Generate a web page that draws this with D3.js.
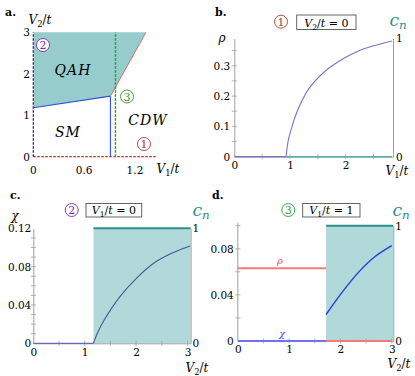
<!DOCTYPE html>
<html>
<head>
<meta charset="utf-8">
<script src="https://cdn.jsdelivr.net/npm/d3@7"></script>
<style>
  body { margin: 0; background: #fff; }
</style>
</head>
<body>
<svg id="fig" width="415" height="376"></svg>
<script>
// ---- data ----
// panel a: phase diagram (V1/t, V2/t)
var phaseXTicks = [0, 0.6, 1.2];
var phaseYTicks = [0, 1, 2, 3];
var smQahLine = [[0, 1.18], [0.91, 1.46]];
var smCdwLine = [[0.91, 0], [0.91, 1.46]];
var qahCdwLine = [[0.91, 1.46], [1.33, 3]];
var qahRegion = [[0, 1.18], [0.91, 1.46], [1.33, 3], [0, 3]];
var cut1 = [[0, 0], [1.46, 0]];
var cut2 = [[0, 0], [0, 3]];
var cut3 = [[0.97, 0], [0.97, 3]];

// panel b: rho vs V1/t at V2/t = 0
var bX = [0.93, 0.97, 1.03, 1.12, 1.33, 1.63, 2.0, 2.23, 2.5, 2.83];
var bRho = [0, 0.055, 0.095, 0.145, 0.222, 0.282, 0.328, 0.349, 0.366, 0.382];
var bRhoZero = [[0, 0], [0.93, 0]];
var bCn = [[0.93, 0], [2.83, 0]];
var bYTicks = [0, 0.1, 0.2, 0.3];
var bXTicks = [0, 1, 2];

// panel c: chi vs V2/t at V1/t = 0
var cX = [1.17, 1.25, 1.37, 1.69, 2.02, 2.34, 2.67, 3.05];
var cChi = [0, 0.011, 0.0235, 0.049, 0.0685, 0.0835, 0.0935, 0.1016];
var cChiZero = [[0, 0], [1.17, 0]];
var cCn = [[1.17, 1], [3.06, 1]];
var cYTicks = [0, 0.04, 0.08, 0.12];
var cXTicks = [0, 1, 2, 3];

// panel d: rho, chi vs V2/t at V1/t = 1
var dRho = [[0, 0.0632], [1.72, 0.0632]];
var dRhoZero = [[1.72, 0], [3.0, 0]];
var dChiZero = [[0, 0], [1.72, 0]];
var dX = [1.72, 2.02, 2.35, 2.68, 3.0];
var dChi = [0.023, 0.0415, 0.0595, 0.0735, 0.0828];
var dCn = [[1.72, 1], [3.03, 1]];
var dYTicks = [0, 0.04, 0.08];
var dXTicks = [0, 1, 2, 3];

var teal = "#2a9090", fillTeal = "#b2d9d9", axisGrey = "#a0a0a0";
var serif = "DejaVu Serif";
var svg = d3.select("#fig").style("font-family", serif);

// math style label: parts = [[text, italic?, sub?, up?], ...]
function mathText(g, x, y, parts, opts) {
  opts = opts || {};
  var t = g.append("text").attr("x", x).attr("y", y)
    .style("font-family", serif)
    .attr("font-size", opts.size || 11)
    .attr("fill", opts.color || "#000")
    .attr("text-anchor", opts.anchor || "middle");
  parts.forEach(function(p) {
    var s = t.append("tspan").text(p[0]);
    if (p[1]) s.attr("font-style", "italic");
    if (p[2]) s.attr("font-size", (opts.size || 11) * 0.7).attr("dy", 3);
    if (p[3]) s.attr("dy", -3);
  });
  return t;
}

function txt(g, x, y, s, size) {
  return g.append("text").attr("x", x).attr("y", y).style("font-family", serif)
    .attr("font-size", size).text(s);
}

function circled(g, x, y, n, color) {
  g.append("circle").attr("cx", x).attr("cy", y).attr("r", 6.5)
    .attr("fill", "#fff").attr("stroke", color).attr("stroke-width", 0.9);
  txt(g, x, y + 4, n, 11).attr("text-anchor", "middle").attr("fill", color);
}

function titleBox(g, x0, x1, y0, y1, parts) {
  g.append("rect").attr("x", x0).attr("y", y0).attr("width", x1 - x0).attr("height", y1 - y0)
    .attr("fill", "#fff").attr("stroke", "#555").attr("stroke-width", 0.9);
  mathText(g, (x0 + x1) / 2, y1 - 3, parts, {size: 11});
}

function greyAxis(g, axis, transform) {
  var a = g.append("g").attr("transform", transform).call(axis);
  a.select(".domain").attr("stroke", axisGrey);
  a.selectAll(".tick text").style("font-family", serif).attr("font-size", 10.5).attr("fill", "#000");
  return a;
}

function minorTicks(g, scale, values, orient, pos, len) {
  values.forEach(function(v) {
    var p = scale(v);
    if (orient === "y") {
      g.append("line").attr("x1", pos - len).attr("x2", pos + len).attr("y1", p).attr("y2", p)
        .attr("stroke", axisGrey).attr("stroke-width", 0.8);
    } else {
      g.append("line").attr("y1", pos - len).attr("y2", pos + len).attr("x1", p).attr("x2", p)
        .attr("stroke", axisGrey).attr("stroke-width", 0.8);
    }
  });
}

function fmt(d) { return d === 0 ? "0" : String(+d.toFixed(2)); }

// ---------------- panel a ----------------
(function() {
  var g = svg.append("g");
  var x = d3.scaleLinear().domain([0, 1.46]).range([33.3, 157]);
  var y = d3.scaleLinear().domain([0, 3]).range([156.7, 32.3]);
  var line = d3.line().x(function(d) { return x(d[0]); }).y(function(d) { return y(d[1]); });

  g.append("path").attr("d", line(qahRegion) + "Z").attr("fill", "#97cccc");
  g.append("path").attr("d", line(smQahLine)).attr("stroke", "#2f4ee6").attr("stroke-width", 1.1).attr("fill", "none");
  g.append("path").attr("d", line(smCdwLine)).attr("stroke", "#2f4ee6").attr("stroke-width", 1.1).attr("fill", "none");
  g.append("path").attr("d", line(qahCdwLine)).attr("stroke", "#e06a5a").attr("stroke-width", 1).attr("fill", "none");
  g.append("path").attr("d", line(cut1)).attr("stroke", "#a83a2c").attr("stroke-width", 1.3)
    .attr("stroke-dasharray", "2.5,1.5").attr("fill", "none");
  g.append("path").attr("d", line(cut2)).attr("stroke", "#2c2c80").attr("stroke-width", 1.3)
    .attr("stroke-dasharray", "2.5,1.5").attr("fill", "none");
  g.append("path").attr("d", line(cut3)).attr("stroke", "#2f9a2f").attr("stroke-width", 1.5)
    .attr("stroke-dasharray", "2.5,1.5").attr("fill", "none");

  phaseXTicks.forEach(function(d) { txt(g, x(d), 174, fmt(d), 10.5).attr("text-anchor", "middle"); });
  phaseYTicks.forEach(function(d) { txt(g, 30, y(d) + 4, fmt(d), 10.5).attr("text-anchor", "end"); });

  mathText(g, 40, 24, [["V", true], ["2", false, true], ["/", false, false, true], ["t", true]], {size: 12});
  mathText(g, 168, 173, [["V", true], ["1", false, true], ["/", false, false, true], ["t", true]], {size: 12});
  txt(g, 5, 16, "a.", 11).attr("font-weight", "bold");

  txt(g, 73, 75, "QAH", 14).attr("text-anchor", "middle").attr("font-style", "italic").attr("letter-spacing", 1);
  txt(g, 68, 137, "SM", 14).attr("text-anchor", "middle").attr("font-style", "italic").attr("letter-spacing", 1);
  txt(g, 148, 125, "CDW", 14).attr("text-anchor", "middle").attr("font-style", "italic").attr("letter-spacing", 1);

  circled(g, 43, 45, "2", "#7a2aa0");
  circled(g, 127, 96.5, "3", "#2f9a2f");
  circled(g, 144, 144, "1", "#b03a2e");
})();

// ---------------- panel b ----------------
(function() {
  var g = svg.append("g");
  var x = d3.scaleLinear().domain([0, 2.85]).range([234.3, 393]);
  var y = d3.scaleLinear().domain([0, 0.39]).range([156.7, 38.5]);
  var yr = d3.scaleLinear().domain([0, 1]).range([156.7, 38.5]);

  greyAxis(g, d3.axisBottom(x).tickValues(bXTicks).tickSize(0).tickPadding(5).tickFormat(fmt), "translate(0,156.7)");
  greyAxis(g, d3.axisLeft(y).tickValues(bYTicks).tickSize(0).tickPadding(4).tickFormat(fmt), "translate(234.3,0)");
  greyAxis(g, d3.axisRight(yr).tickValues([0, 1]).tickSize(0).tickPadding(3).tickFormat(fmt), "translate(393,0)");
  minorTicks(g, y, [0.05, 0.1, 0.15, 0.2, 0.25, 0.3, 0.35], "y", 234.3, 2.5);
  minorTicks(g, x, [0.5, 1, 1.5, 2, 2.5], "x", 156.7, 2.5);

  var line = d3.line().x(function(d) { return x(d[0]); }).y(function(d) { return y(d[1]); });
  g.append("path").attr("d", line(bRhoZero)).attr("fill", "none").attr("stroke", "#7a72cc").attr("stroke-width", 1.3);
  var rhoPts = bX.map(function(v, i) { return [v, bRho[i]]; });
  g.append("path").attr("d", line.curve(d3.curveCatmullRom)(rhoPts)).attr("fill", "none")
    .attr("stroke", "#7a72cc").attr("stroke-width", 1.1);
  var lineR = d3.line().x(function(d) { return x(d[0]); }).y(function(d) { return yr(d[1]); });
  g.append("path").attr("d", lineR(bCn)).attr("fill", "none").attr("stroke", "#5fb0ac").attr("stroke-width", 1.6);

  txt(g, 222, 42, "ρ", 12).attr("text-anchor", "middle").attr("font-style", "italic");
  mathText(g, 397, 175, [["V", true], ["1", false, true], ["/", false, false, true], ["t", true]], {size: 12});
  mathText(g, 398, 26, [["c", true], ["n", true, true]], {size: 17, color: teal});
  txt(g, 215, 16, "b.", 11).attr("font-weight", "bold");
  circled(g, 281, 21.7, "1", "#b03a2e");
  titleBox(g, 296.7, 356, 15, 29.5, [["V", true], ["2", false, true], ["/", false, false, true], ["t", true], [" = 0"]]);
})();

// ---------------- panel c ----------------
(function() {
  var g = svg.append("g");
  var x = d3.scaleLinear().domain([0, 3.06]).range([33.3, 190.6]);
  var y = d3.scaleLinear().domain([0, 0.12]).range([343.3, 228.3]);
  var yr = d3.scaleLinear().domain([0, 1]).range([343.3, 228.3]);

  g.append("rect").attr("x", x(cCn[0][0])).attr("y", y(0.12))
    .attr("width", x(cCn[1][0]) - x(cCn[0][0])).attr("height", y(0) - y(0.12)).attr("fill", fillTeal);

  greyAxis(g, d3.axisBottom(x).tickValues(cXTicks).tickSize(0).tickPadding(5).tickFormat(fmt), "translate(0,343.3)");
  greyAxis(g, d3.axisLeft(y).tickValues(cYTicks).tickSize(0).tickPadding(2).tickFormat(fmt), "translate(33.3,0)");
  greyAxis(g, d3.axisRight(yr).tickValues([0, 1]).tickSize(0).tickPadding(2).tickFormat(fmt), "translate(190.6,0)");
  minorTicks(g, y, [0.01, 0.02, 0.03, 0.04, 0.05, 0.06, 0.07, 0.08, 0.09, 0.1, 0.11], "y", 33.3, 2.5);
  minorTicks(g, x, [0.5, 1, 1.5, 2, 2.5, 3], "x", 343.3, 2.5);

  var line = d3.line().x(function(d) { return x(d[0]); }).y(function(d) { return y(d[1]); });
  g.append("path").attr("d", line(cChiZero)).attr("fill", "none").attr("stroke", "#6a6ab8").attr("stroke-width", 1.3);
  var chiPts = cX.map(function(v, i) { return [v, cChi[i]]; });
  g.append("path").attr("d", line.curve(d3.curveCatmullRom)(chiPts)).attr("fill", "none")
    .attr("stroke", "#3f5c98").attr("stroke-width", 1.1);
  var lineR = d3.line().x(function(d) { return x(d[0]); }).y(function(d) { return yr(d[1]); });
  g.append("path").attr("d", lineR(cCn)).attr("fill", "none").attr("stroke", teal).attr("stroke-width", 2);

  txt(g, 15, 220, "χ", 12).attr("text-anchor", "middle").attr("font-style", "italic");
  mathText(g, 197, 372, [["V", true], ["2", false, true], ["/", false, false, true], ["t", true]], {size: 12});
  mathText(g, 201, 216, [["c", true], ["n", true, true]], {size: 17, color: teal});
  txt(g, 10, 199, "c.", 11).attr("font-weight", "bold");
  circled(g, 71.7, 210, "2", "#7a2aa0");
  titleBox(g, 86, 141.7, 203.5, 217, [["V", true], ["1", false, true], ["/", false, false, true], ["t", true], [" = 0"]]);
})();

// ---------------- panel d ----------------
(function() {
  var g = svg.append("g");
  var x = d3.scaleLinear().domain([0, 3.03]).range([237.8, 393.3]);
  var y = d3.scaleLinear().domain([0, 0.1]).range([341, 225.7]);
  var yr = d3.scaleLinear().domain([0, 1]).range([341, 225.7]);

  g.append("rect").attr("x", x(dCn[0][0])).attr("y", yr(1))
    .attr("width", x(dCn[1][0]) - x(dCn[0][0])).attr("height", yr(0) - yr(1)).attr("fill", fillTeal);

  greyAxis(g, d3.axisBottom(x).tickValues(dXTicks).tickSize(0).tickPadding(5).tickFormat(fmt), "translate(0,341)");
  var la = greyAxis(g, d3.axisLeft(y).tickValues(dYTicks).tickSize(0).tickPadding(4).tickFormat(fmt), "translate(237.8,0)");
  la.select(".domain").attr("d", "M0," + y(0) + "V" + (y(0.1) - 3));
  greyAxis(g, d3.axisRight(yr).tickValues([0, 1]).tickSize(0).tickPadding(2).tickFormat(fmt), "translate(393.3,0)");
  minorTicks(g, y, [0.02, 0.04, 0.06, 0.08, 0.1], "y", 237.8, 2.5);
  minorTicks(g, x, [0.5, 1, 1.5, 2, 2.5, 3], "x", 341, 2.5);

  var line = d3.line().x(function(d) { return x(d[0]); }).y(function(d) { return y(d[1]); });
  g.append("path").attr("d", line(dRho)).attr("fill", "none").attr("stroke", "#f47a7a").attr("stroke-width", 2);
  g.append("path").attr("d", line(dRhoZero)).attr("fill", "none").attr("stroke", "#f47a7a").attr("stroke-width", 2);
  g.append("path").attr("d", line(dChiZero)).attr("fill", "none").attr("stroke", "#7070f0").attr("stroke-width", 2);
  var chiPts = dX.map(function(v, i) { return [v, dChi[i]]; });
  g.append("path").attr("d", line.curve(d3.curveCatmullRom)(chiPts)).attr("fill", "none")
    .attr("stroke", "#1f3ee0").attr("stroke-width", 1.4);
  var lineR = d3.line().x(function(d) { return x(d[0]); }).y(function(d) { return yr(d[1]); });
  g.append("path").attr("d", lineR(dCn)).attr("fill", "none").attr("stroke", teal).attr("stroke-width", 2);

  txt(g, 280, 264, "ρ", 10).attr("text-anchor", "middle").attr("font-style", "italic").attr("fill", "#f05050");
  txt(g, 282, 337, "χ", 10).attr("text-anchor", "middle").attr("font-style", "italic").attr("fill", "#4a4af0");
  mathText(g, 399, 368, [["V", true], ["2", false, true], ["/", false, false, true], ["t", true]], {size: 12});
  mathText(g, 401, 216, [["c", true], ["n", true, true]], {size: 17, color: teal});
  txt(g, 212, 199, "d.", 11).attr("font-weight", "bold");
  circled(g, 288.3, 210, "3", "#2f9a2f");
  titleBox(g, 302.7, 360, 203.5, 217, [["V", true], ["1", false, true], ["/", false, false, true], ["t", true], [" = 1"]]);
})();
</script>
</body>
</html>
